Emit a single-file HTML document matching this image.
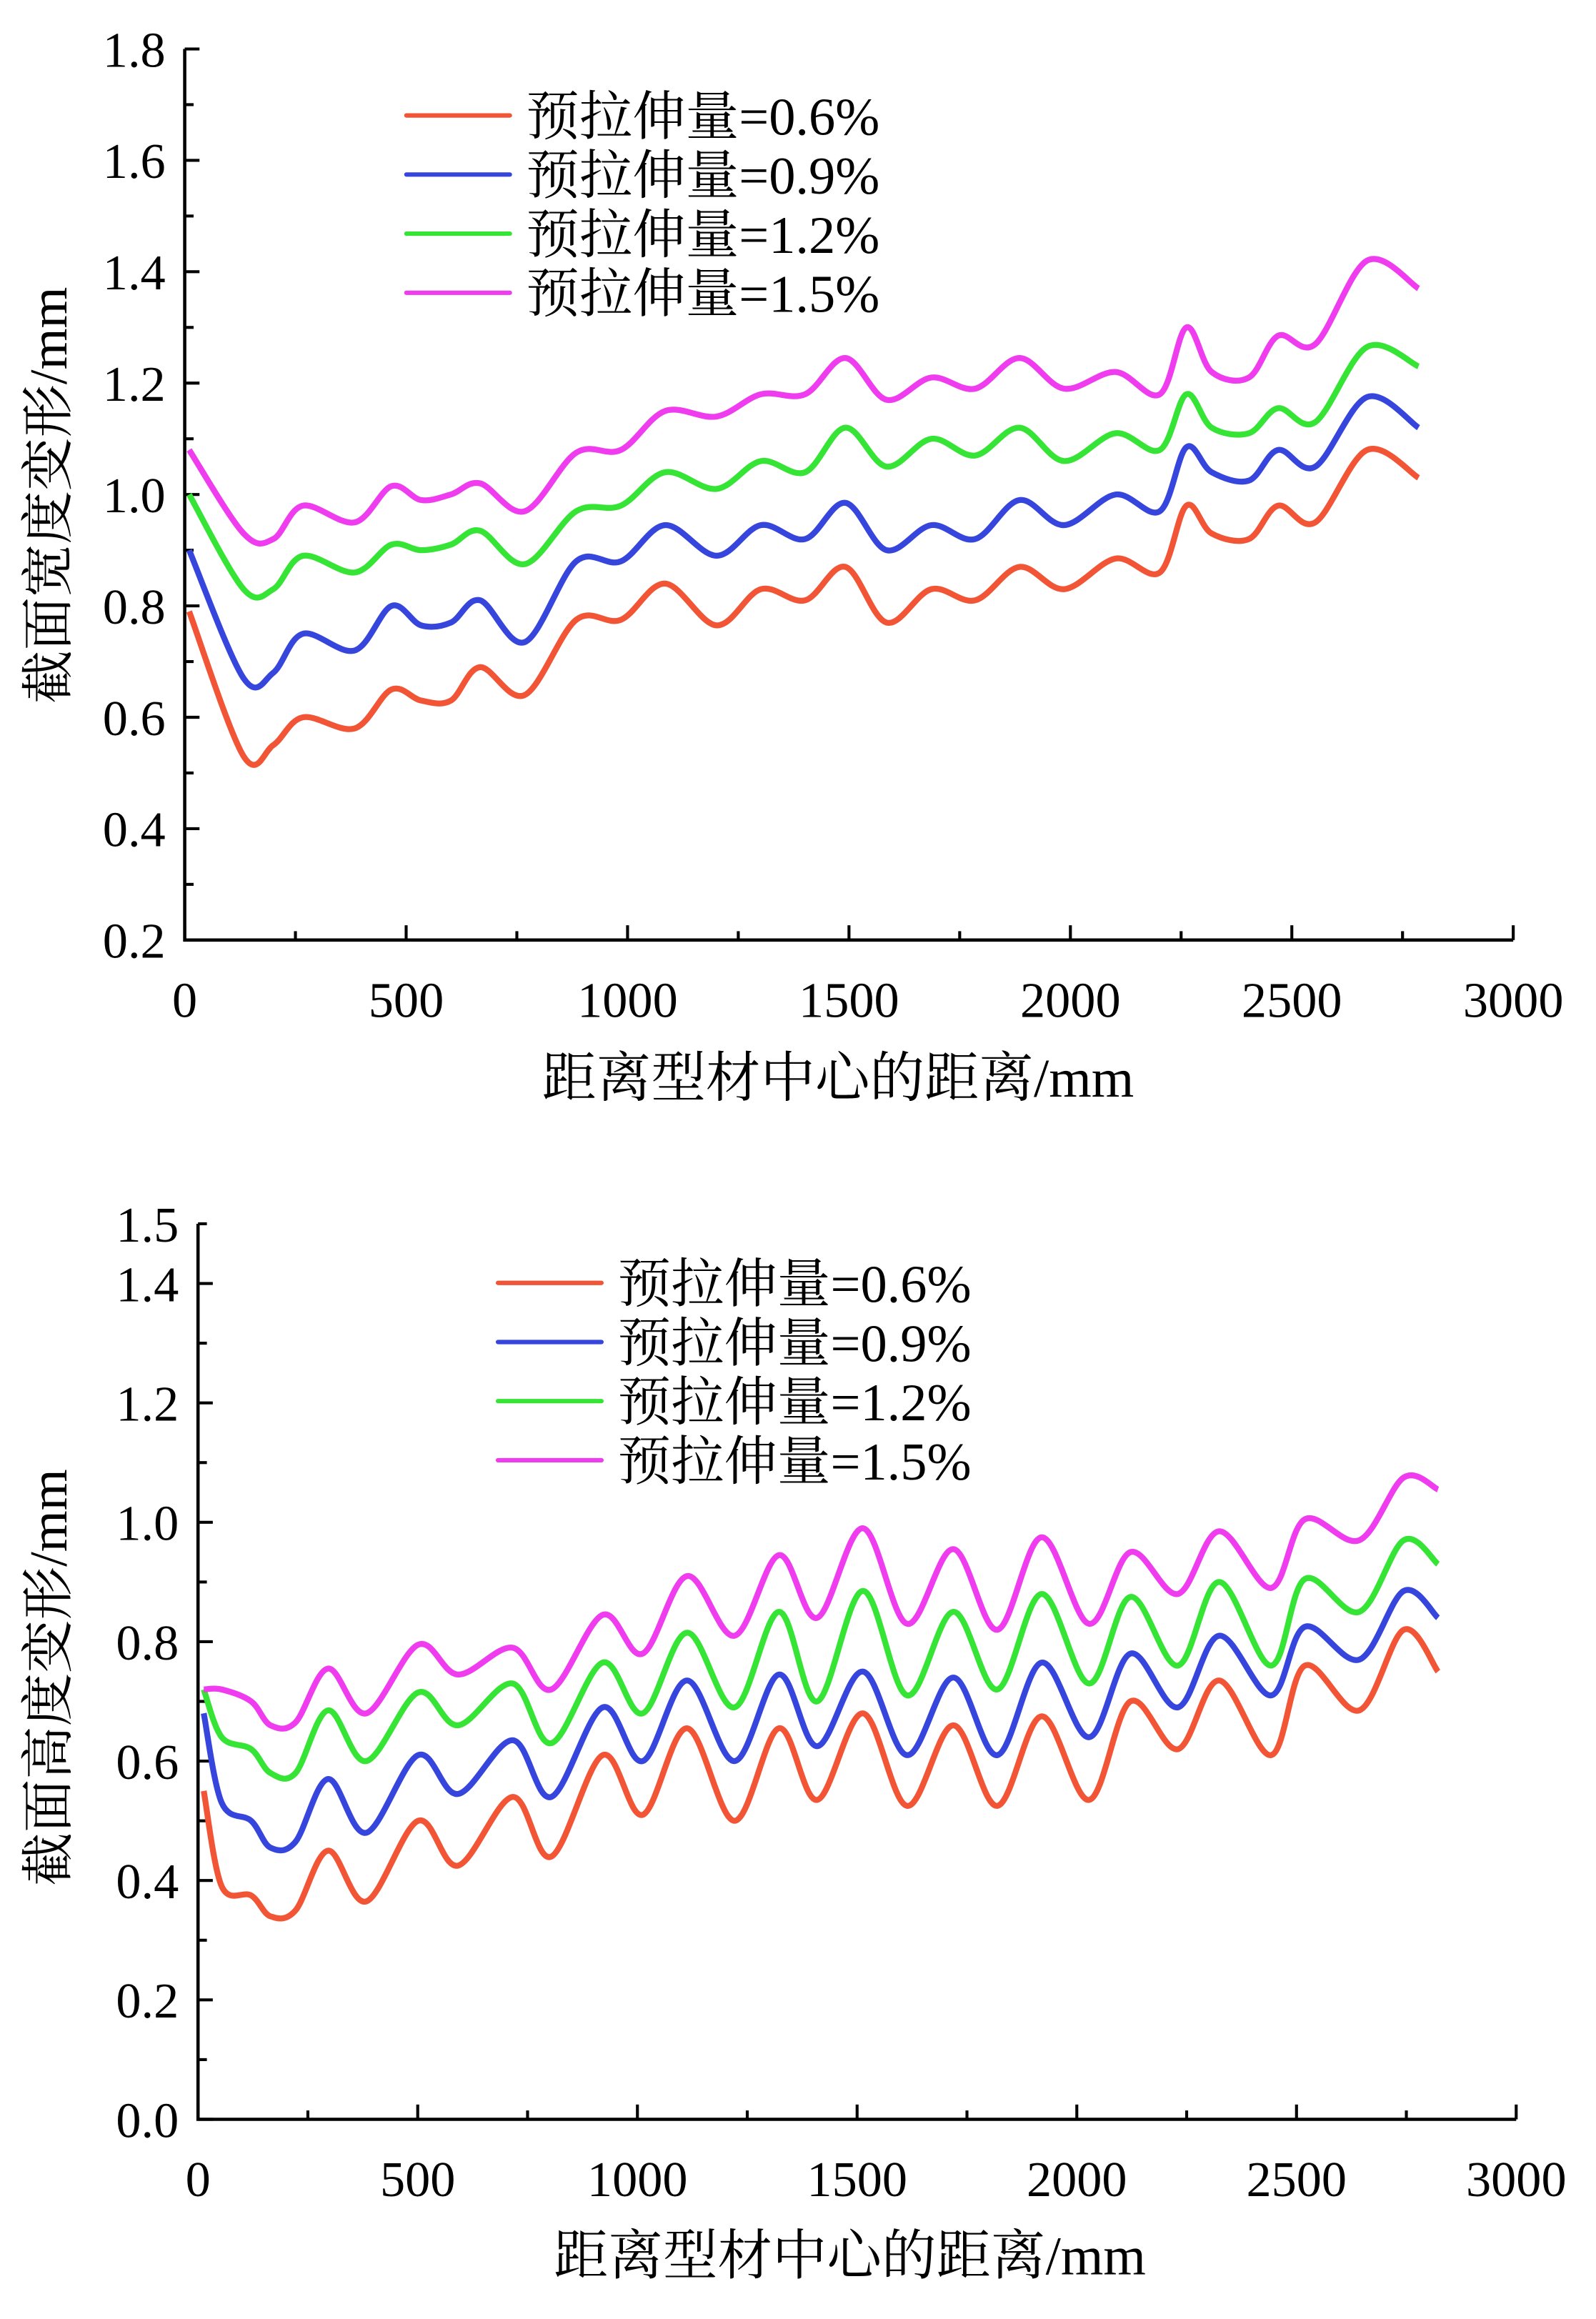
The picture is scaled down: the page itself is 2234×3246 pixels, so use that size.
<!DOCTYPE html>
<html><head><meta charset="utf-8"><style>
html,body{margin:0;padding:0;background:#fff;}
svg{display:block;}
text{font-family:"Liberation Serif","Noto Serif CJK SC",serif;fill:#000;}
</style></head><body>
<svg id="svg" width="2234" height="3246" viewBox="0 0 1080 1569" xmlns="http://www.w3.org/2000/svg"></svg>
<script>
const NS="http://www.w3.org/2000/svg";
const svg=document.getElementById('svg');
const seriesLabels=["预拉伸量=0.6%","预拉伸量=0.9%","预拉伸量=1.2%","预拉伸量=1.5%"];
const seriesColors=["#f25536","#3646dc","#36e436","#ee3cee"];
// top chart data (width deformation)
const topX=[10,133,200,267,384,467,534,601,667,768,884,985,1085,1201,1301,1401,1492,1585,1686,1785,1885,1986,2102,2202,2262,2319,2403,2469,2553,2670,2786];
const topS1=[0.79,0.53,0.55,0.60,0.58,0.65,0.63,0.63,0.69,0.64,0.775,0.775,0.84,0.765,0.83,0.81,0.87,0.77,0.83,0.81,0.87,0.83,0.885,0.86,0.98,0.93,0.92,0.98,0.95,1.08,1.03];
const topS2=[0.9,0.67,0.68,0.75,0.72,0.80,0.765,0.77,0.81,0.735,0.88,0.88,0.945,0.89,0.945,0.92,0.985,0.90,0.945,0.92,0.99,0.945,1.0,0.97,1.085,1.04,1.025,1.08,1.05,1.175,1.12];
const topS3=[1.0,0.83,0.83,0.89,0.86,0.91,0.90,0.91,0.935,0.875,0.97,0.98,1.04,1.01,1.06,1.04,1.12,1.05,1.10,1.07,1.12,1.06,1.11,1.08,1.18,1.12,1.11,1.155,1.13,1.265,1.23];
const topS4=[1.08,0.93,0.92,0.98,0.95,1.015,0.99,1.0,1.02,0.97,1.075,1.08,1.15,1.14,1.18,1.18,1.245,1.17,1.21,1.19,1.245,1.19,1.22,1.18,1.30,1.22,1.21,1.285,1.27,1.42,1.37];
const topYTicks=["0.2","0.4","0.6","0.8","1.0","1.2","1.4","1.6","1.8"];
// bottom chart data (height deformation)
const botX=[13,54,121,165,222,296,383,501,592,716,804,921,1012,1113,1221,1322,1409,1513,1614,1719,1819,1920,2028,2122,2230,2324,2442,2519,2643,2744,2822];
const botS1=[0.55,0.39,0.375,0.34,0.35,0.45,0.365,0.50,0.425,0.54,0.44,0.61,0.51,0.655,0.50,0.655,0.535,0.68,0.525,0.66,0.525,0.675,0.535,0.70,0.62,0.735,0.61,0.76,0.685,0.82,0.75];
const botS2=[0.68,0.53,0.50,0.455,0.465,0.57,0.48,0.61,0.545,0.635,0.54,0.69,0.60,0.735,0.60,0.745,0.625,0.75,0.61,0.74,0.61,0.765,0.64,0.78,0.69,0.81,0.71,0.825,0.77,0.885,0.84];
const botS3=[0.72,0.64,0.62,0.58,0.58,0.685,0.60,0.715,0.66,0.73,0.63,0.765,0.68,0.815,0.69,0.85,0.70,0.885,0.71,0.85,0.72,0.88,0.73,0.875,0.76,0.90,0.76,0.905,0.85,0.97,0.93];
const botS4=[0.72,0.72,0.70,0.66,0.665,0.755,0.68,0.795,0.745,0.79,0.72,0.845,0.78,0.91,0.81,0.945,0.84,0.99,0.83,0.955,0.82,0.975,0.83,0.95,0.88,0.985,0.89,1.005,0.97,1.075,1.055];
const botYTicks=["0.0","0.2","0.4","0.6","0.8","1.0","1.2","1.4","1.5"];
const xTicks=["0","500","1000","1500","2000","2500","3000"];

function el(tag,attrs,parent){const e=document.createElementNS(NS,tag);for(const k in attrs)e.setAttribute(k,attrs[k]);(parent||svg).appendChild(e);return e;}
function smooth(pts){let d="M"+pts[0][0]+","+pts[0][1];for(let i=0;i<pts.length-1;i++){const p0=pts[Math.max(0,i-1)],p1=pts[i],p2=pts[i+1],p3=pts[Math.min(pts.length-1,i+2)];const c1=[p1[0]+(p2[0]-p0[0])/6,p1[1]+(p2[1]-p0[1])/6],c2=[p2[0]-(p3[0]-p1[0])/6,p2[1]-(p3[1]-p1[1])/6];d+=` C${c1[0]},${c1[1]} ${c2[0]},${c2[1]} ${p2[0]},${p2[1]}`;}return d;}

function chart(cfg){
  const g=el('g',{});
  
  
  const sx=v=>cfg.x0+(v/3000)*(cfg.x1-cfg.x0);
  const sy=v=>cfg.yb-(v-cfg.ymin)/(cfg.ymax-cfg.ymin)*(cfg.yb-cfg.yt);
  const ax=el('path',{d:`M${cfg.x0},${cfg.yt} L${cfg.x0},${cfg.yb} L${cfg.x1},${cfg.yb}`,fill:'none',stroke:'#000','stroke-width':2.2},g);
  
  
  for(let v=0;v<=3000;v+=250){const X=sx(v);el('line',{x1:X,x2:X,y1:cfg.yb,y2:cfg.yb-(v%500===0?10:6),stroke:'#000','stroke-width':2},g);}
  xTicks.forEach(t=>{const tx=el('text',{x:sx(+t),y:cfg.yb+52,'text-anchor':'middle','font-size':34},g);tx.textContent=t;
    
    });
  for(let v=cfg.ymin;v<=cfg.ymax+1e-6;v+=0.1){const Y=sy(v);const major=Math.round(v*10)%2===0;el('line',{x1:cfg.x0,x2:cfg.x0+(major?10:6),y1:Y,y2:Y,stroke:'#000','stroke-width':2},g);}
  cfg.yticks.forEach(t=>{const ty=el('text',{x:cfg.x0-13,y:sy(+t)+12,'text-anchor':'end','font-size':34},g);ty.textContent=t;
    
    });
  const xt=el('text',{x:cfg.xtX,y:cfg.xtY,'text-anchor':'middle','font-size':37},g);xt.textContent="距离型材中心的距离/mm";
  
  
  const yt=el('text',{x:0,y:0,'text-anchor':'middle','font-size':36,transform:`translate(${cfg.ytX},${cfg.ytY}) rotate(-90)`},g);yt.textContent=cfg.ytitle;
  
  
  cfg.series.forEach((s,i)=>{const pts=cfg.xs.map((x,j)=>[sx(x),sy(s[j])]);
    const p=el('path',{d:smooth(pts),fill:'none',stroke:seriesColors[i],'stroke-width':4,'stroke-linejoin':'round'},g);
    
    });
  seriesLabels.forEach((l,i)=>{const Y=cfg.legY+i*40;
    const lg=el('g',{},g);
    
    
    el('line',{x1:cfg.legX,x2:cfg.legX+70,y1:Y,y2:Y,stroke:seriesColors[i],'stroke-width':3,'stroke-linecap':'round'},lg);
    const t=el('text',{x:cfg.legX+81,y:Y+13,'font-size':36},lg);t.textContent=l;});
}
chart({name:'width-deformation-chart',x0:125,x1:1024,yt:33,yb:636,ymin:0.2,ymax:1.8,yticks:topYTicks,xs:topX,series:[topS1,topS2,topS3,topS4],xtX:567,xtY:742,ytX:45,ytY:335,ytitle:"截面宽度变形/mm",legX:275,legY:78});
chart({name:'height-deformation-chart',x0:134,x1:1026,yt:828,yb:1434,ymin:0,ymax:1.5,yticks:botYTicks,xs:botX,series:[botS1,botS2,botS3,botS4],xtX:575,xtY:1539,ytX:45,ytY:1135,ytitle:"截面高度变形/mm",legX:337,legY:868});
</script>
</body></html>
